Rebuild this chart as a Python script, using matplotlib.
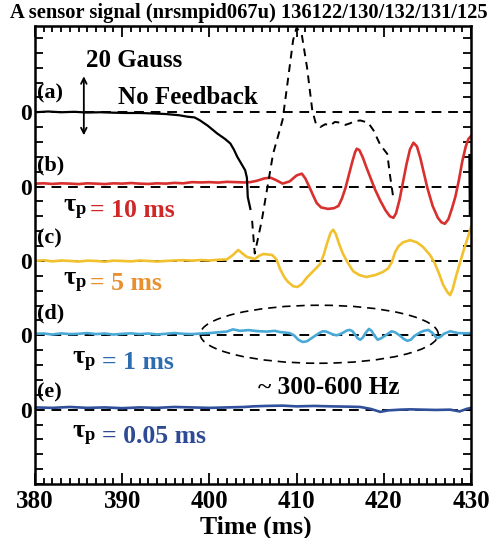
import matplotlib
matplotlib.use("Agg")
import matplotlib.pyplot as plt
from matplotlib.patches import Ellipse

plt.rcParams['font.family'] = ['Liberation Serif', 'DejaVu Serif']
plt.rcParams['font.weight'] = 'bold'
plt.rcParams['mathtext.fontset'] = 'custom'
plt.rcParams['mathtext.rm'] = 'Liberation Serif:bold'
plt.rcParams['mathtext.it'] = 'Liberation Serif:bold'
plt.rcParams['mathtext.bf'] = 'Liberation Serif:bold'

# ---- data (units: y-tick steps, relative to each trace's zero) ----
t_a = [380.0, 381.5, 383.0, 384.5, 386.0, 387.5, 389.0, 390.5, 392.0, 393.5, 395.0,
       396.5, 397.5, 398.3, 398.9, 399.8, 400.9, 401.8, 402.4, 402.8, 403.2, 403.7,
       404.1, 404.3, 404.4, 404.7]
v_a = [0.0, 0.05, 0.0, 0.03, -0.02, 0.0, -0.03, -0.05, -0.05, -0.08, -0.12,
       -0.2, -0.3, -0.35, -0.54, -0.9, -1.43, -1.8, -2.1, -2.5, -3.0, -3.5,
       -3.9, -4.4, -5.7, -6.5]

t_a_dash = [404.9, 405.2, 406.0, 407.3, 408.4, 409.0, 409.6, 410.0, 410.6, 411.2, 411.8,
            412.2, 412.7, 413.3, 413.8, 414.4, 415.0, 415.6, 416.1, 416.7, 417.3, 418.2,
            418.8, 419.6, 420.4, 420.7, 421.1]
v_a_dash = [-7.3, -9.5, -7.3, -2.8, -0.5, 2.15, 4.85, 5.7, 5.2, 3.0, 0.13,
            -0.75, -1.0, -0.8, -0.9, -0.65, -0.7, -0.85, -0.75, -0.6, -0.55, -0.7,
            -1.2, -2.2, -2.8, -4.2, -5.8]

t_a_end = [429.85, 429.9]
v_a_end = [-2.9, -6.9]

t_b = [380, 381, 382, 383, 384, 385, 386, 387, 388, 389, 390, 391, 392, 393, 394, 395,
       396, 397, 398, 399, 400, 401, 402, 403, 404, 404.7, 405.5, 406.3, 407.0, 407.6,
       408.4, 409.2, 410.0, 410.6, 411.0, 411.5, 411.9, 412.3, 412.8, 413.6, 414.3,
       414.8, 415.2, 415.6, 416.0, 416.4, 416.7, 416.9, 417.2, 417.6, 418.0, 418.5,
       419.0, 419.6, 420.2, 420.7, 421.1, 421.4, 421.8, 422.2, 422.6, 423.0, 423.4,
       423.8, 424.2, 424.6, 425.0, 425.6, 426.2, 426.6, 427.0, 427.4, 427.8, 428.2,
       428.6, 429.0, 429.4, 429.7, 430.0]
v_b = [0.2, 0.22, 0.18, 0.22, 0.2, 0.17, 0.22, 0.2, 0.17, 0.22, 0.2, 0.24, 0.2, 0.18,
       0.22, 0.2, 0.25, 0.22, 0.3, 0.28, 0.3, 0.27, 0.32, 0.3, 0.28, 0.3, 0.4, 0.55, 0.6,
       0.45, 0.2, 0.35, 0.75, 0.87, 0.55, -0.07, -0.6, -1.1, -1.4, -1.5, -1.45,
       -1.3, -0.8, -0.1, 0.8, 1.7, 2.3, 2.55, 2.45, 1.95, 1.3, 0.55,
       -0.2, -0.95, -1.6, -2.0, -2.1, -1.8, -0.9, 0.3, 1.5, 2.5, 2.95,
       2.7, 1.9, 0.9, -0.1, -1.3, -2.1, -2.4, -2.5, -2.2, -1.5, -0.7,
       0.4, 1.7, 2.7, 3.2, 3.4]

t_c = [380, 381, 382, 383, 384, 385, 386, 387, 388, 389, 390, 391, 392, 393, 394, 395,
       396, 397, 398, 399, 400, 401, 402, 402.7, 403.3, 403.8, 404.3, 405.2, 405.7,
       406.2, 407.2, 407.7, 408.1, 408.6, 409.0, 409.6, 410.1, 410.6, 411.2, 411.8,
       412.3, 412.7, 413.1, 413.5, 413.9, 414.2, 414.5, 414.9, 415.3, 415.9, 416.5,
       417.2, 418.0, 419.0, 419.9, 420.5, 420.9, 421.3, 421.7, 422.2, 423.0, 423.8,
       424.5, 425.3, 425.8, 426.3, 426.8, 427.3, 427.6, 427.9, 428.3, 428.8, 429.2,
       429.6, 430.0]
v_c = [0.0, 0.05, -0.03, 0.03, 0.0, -0.04, 0.02, 0.0, -0.05, 0.02, 0.0, -0.03, 0.03,
       0.0, -0.04, 0.0, 0.03, 0.05, 0.02, 0.06, 0.03, 0.08, 0.1, 0.4, 0.74, 0.5, 0.27,
       0.13, 0.35, 0.47, 0.4, 0.1, -0.54, -1.1, -1.4, -1.7, -1.75, -1.55, -1.1, -0.75,
       -0.45, -0.2, 0.4, 1.2, 1.9, 2.1, 1.8, 1.1, 0.5, -0.15, -0.7,
       -0.95, -1.08, -0.95, -0.74, -0.5, -0.1, 0.6, 1.0, 1.25, 1.4, 1.25,
       0.94, 0.4, -0.1, -0.8, -1.6, -2.1, -2.3, -1.9, -1.0, 0.0, 0.8,
       1.5, 2.3]

t_d = [380, 381, 382, 383, 384, 385, 386, 387, 388, 389, 390, 391, 392, 393, 394, 395,
       396, 397, 398, 399, 400, 401, 402, 402.7, 403.5, 404.5, 405.5, 406.6, 407.5,
       408.1, 409.2, 409.7, 410.2, 410.7, 411.2, 411.7, 412.2, 412.6, 413.0, 413.4,
       413.8, 414.2, 414.6, 415.0, 415.4, 415.8, 416.1, 416.4, 416.7, 417.0, 417.3,
       417.6, 417.9, 418.3, 418.6, 418.9, 419.3, 419.7, 420.1, 420.5, 420.9, 421.3,
       421.8, 422.3, 422.7, 423.1, 423.5, 424.2, 424.6, 425.1, 425.6, 426.1, 426.5,
       426.9, 427.6, 428.5, 429.5, 430.0]
v_d = [0.1, 0.12, 0.05, 0.13, 0.08, 0.1, 0.15, 0.08, 0.12, 0.05, 0.1, 0.13, 0.08,
       0.12, 0.06, 0.1, 0.15, 0.1, 0.08, 0.12, 0.15, 0.2, 0.25, 0.4, 0.3, 0.35, 0.28,
       0.25, 0.3, 0.22, 0.15, 0.0, -0.3, -0.45, -0.4, -0.2, 0.0, 0.15, 0.27, 0.25,
       0.15, 0.05, 0.0, 0.08, 0.2, 0.33, 0.36, 0.28, 0.05, -0.2, -0.3,
       -0.15, 0.15, 0.43, 0.3, 0.0, -0.3, -0.2, -0.05, 0.12, 0.27, 0.2,
       0.0, -0.25, -0.37, -0.3, -0.05, 0.2, 0.3, 0.36, 0.15, -0.2, -0.1,
       0.1, 0.27, 0.15, 0.13, 0.15]

t_e = [380, 382, 384, 386, 388, 390, 392, 394, 396, 398, 400, 402, 404, 405, 406.5,
       408.4, 410, 412, 414, 416, 417.3, 418.5, 419.6, 420.5, 421.9, 423, 424.5, 426,
       427.6, 428.7, 429.5, 430]
v_e = [0.15, 0.12, 0.18, 0.12, 0.15, 0.1, 0.15, 0.12, 0.18, 0.15, 0.12, 0.15, 0.18,
       0.22, 0.25, 0.27, 0.22, 0.25, 0.22, 0.2, 0.18, 0.05, -0.15, -0.05, 0.0, 0.02,
       0.0, -0.02, 0.0, -0.12, 0.05, 0.12]

offsets = [0, -5, -10, -15, -20]
panel_labels = ['(a)', '(b)', '(c)', '(d)', '(e)']
tau_values = ['= 10 ms', '= 5 ms', '= 1 ms', '= 0.05 ms']
x_ticks = [380, 390, 400, 410, 420, 430]

trace_colors = ['black', '#d8302f', '#f1c12f', '#4aa9d6', '#30509b']
label_colors = ['#d02828', '#e8902e', '#2e6cb0', '#2e4a94']

fig = plt.figure(figsize=(4.97, 5.38), dpi=100)
ax = fig.add_axes([35/497, 54/538, 436/497, 458/538])
ax.set_xlim(380, 430)
ax.set_ylim(-25, 5.8)

# zero lines
for off in offsets:
    ax.plot([380, 430], [off, off], color='black', lw=1.4, dashes=(5, 3.5), zorder=1)

lw = 1.9
ax.plot(t_a, [v + offsets[0] for v in v_a], color='black', lw=1.6, zorder=3)
ax.plot(t_a_dash, [v + offsets[0] for v in v_a_dash], color='black', lw=1.4,
        dashes=(4, 3), zorder=3)
ax.plot(t_a_end, [v + offsets[0] for v in v_a_end], color='black', lw=2.0, zorder=3)
ax.plot(t_b, [v + offsets[1] for v in v_b], color=trace_colors[1], lw=lw, zorder=2)
ax.plot(t_c, [v + offsets[2] for v in v_c], color=trace_colors[2], lw=lw, zorder=2)
ax.plot(t_d, [v + offsets[3] for v in v_d], color=trace_colors[3], lw=lw, zorder=2)
ax.plot(t_e, [v + offsets[4] for v in v_e], color=trace_colors[4], lw=lw, zorder=2)

ax.add_patch(Ellipse((412.6, -14.93), 27.3, 3.9, fill=False, ec='black', lw=1.2,
                     ls=(0, (5, 3.5)), zorder=4))

# ticks
ax.set_xticks(x_ticks)
ax.set_xticks(range(380, 431), minor=True)
ax.set_xticklabels([str(x) for x in x_ticks], fontsize=18, fontweight='bold')
yt = list(range(-25, 6))
ax.set_yticks(yt)
ax.set_yticklabels(['0' if (y in offsets) else '' for y in yt], fontsize=17,
                   fontweight='bold')
ax.tick_params(axis='both', which='both', direction='in', top=True, right=True,
               width=1.3)
ax.tick_params(axis='x', which='major', length=8, pad=4)
ax.tick_params(axis='x', which='minor', length=4)
ax.tick_params(axis='y', which='major', length=6, pad=2)
for s in ax.spines.values():
    s.set_linewidth(1.8)

# annotations
fs = 18
ys_panel = [1.28, -3.57, -8.5, -13.5, -18.85]
for lab, y in zip(panel_labels, ys_panel):
    ax.text(380.2, y, lab, fontsize=16, fontweight='bold', va='center', ha='left')

ax.text(385.9, 3.5, '20 Gauss', fontsize=fs, fontweight='bold', va='center', ha='left')
ax.text(389.5, 1.0, 'No Feedback', fontsize=fs, fontweight='bold', va='center', ha='left')
ax.annotate('', xy=(385.6, 2.42), xytext=(385.6, -1.55),
            arrowprops=dict(arrowstyle='<->', color='black', lw=1.3,
                            shrinkA=0, shrinkB=0, mutation_scale=10))

tau_x = [383.2, 383.2, 384.2, 384.2]
eq_x = [386.3, 386.3, 387.7, 387.7]
tau_y = [-6.6, -11.5, -16.8, -21.8]
for tx, ex, ty, val, col in zip(tau_x, eq_x, tau_y, tau_values, label_colors):
    ax.text(tx, ty, r'$\tau_\mathrm{p}$', fontsize=19, va='center', ha='left',
            color='black')
    ax.text(ex, ty, val, fontsize=18.5, fontweight='bold', va='center', ha='left',
            color=col)

ax.text(405.6, -18.5, '~ 300-600 Hz', fontsize=18.3, fontweight='bold', va='center',
        ha='left')

fig.text(0.5, 1 - 13/538, 'A sensor signal (nrsmpid067u) 136122/130/132/131/125',
         fontsize=14.8, fontweight='bold', ha='center', va='center')
fig.text(256/497, 1 - 527/538, 'Time (ms)', fontsize=18.5, fontweight='bold',
         ha='center', va='center')

fig.savefig('out.png', dpi=100)
